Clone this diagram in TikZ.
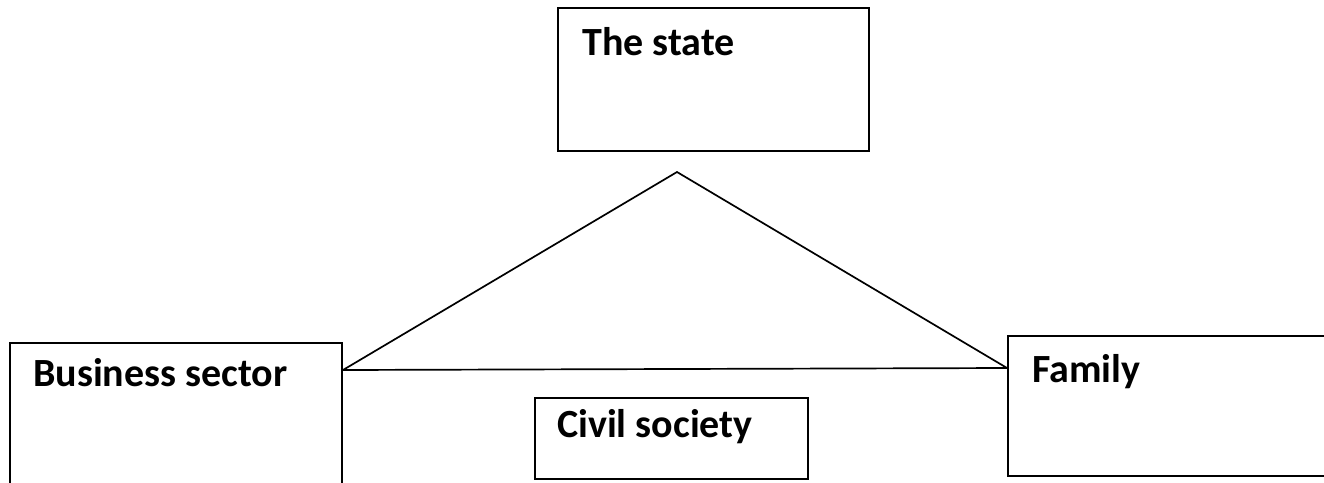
\documentclass[tikz,border=0pt]{standalone}
\usepackage{fontspec}
\setmainfont{Carlito}
\usetikzlibrary{positioning}

\begin{document}
\begin{tikzpicture}[x=1pt,y=-1pt,
    box/.style={draw, line width=2pt, inner sep=0pt, anchor=north west},
    lbl/.style={anchor=base west, inner sep=0pt, font=\fontsize{40}{44}\selectfont\bfseries},
    side/.style={line width=1.7pt}]
      \useasboundingbox (0,0) rectangle (1324,482);
      \clip (0,0) rectangle (1324,482);
      % the four boxes
      \node[box, minimum width=311pt, minimum height=143pt] (state) at (557,7) {};
      \node[box, minimum width=332pt, minimum height=143pt] (biz) at (9,342) {};
      \node[box, minimum width=273pt, minimum height=81pt] (civil) at (534,397) {};
      \node[box, minimum width=330pt, minimum height=140pt] (family) at (1007,335) {};
      \node[lbl] (statetxt) at (582,55) {The state};
      \node[lbl] (biztxt) at (33,386) {Business sector};
      \node[lbl] (civiltxt) at (557,437) {Civil society};
      \node[lbl] (familytxt) at (1032,382) {Family};
      % the triangle
      \coordinate (top) at (677,172);
      \coordinate (bl) at (biz.east |- 0,370);
      \coordinate (br) at (family.west |- 0,368);
      \draw[side] (bl) -- (top) -- (br);
      \draw[side] (bl) -- (br);
    \end{tikzpicture}
\end{document}
